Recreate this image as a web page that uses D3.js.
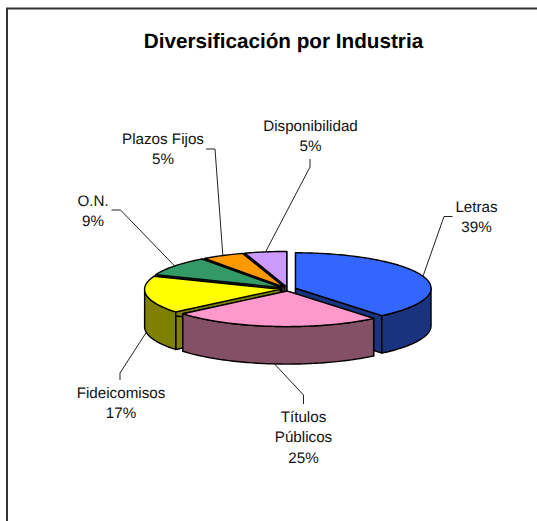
<!DOCTYPE html>
<html>
<head>
<meta charset="utf-8">
<script src="https://cdn.jsdelivr.net/npm/d3@7"></script>
<style>
  html, body {margin: 0; padding: 0; background: #fff; overflow: hidden;}
  text {font-family: 'Liberation Sans', Arial, sans-serif; fill: #111; text-rendering: geometricPrecision;}
</style>
</head>
<body>
<div id="chart"></div>
<script>
const titleText = 'Diversificación por Industria';
const categories = ['Letras', 'Títulos Públicos', 'Fideicomisos', 'O.N.', 'Plazos Fijos', 'Disponibilidad'];
const percents = [39, 25, 17, 9, 5, 5];
const topColors = ['#3366ff', '#ff99cc', '#ffff00', '#339966', '#ff9900', '#cc99ff'];
const wallColors = ['#1a337f', '#845066', '#808000', '#1a4d33', '#804d00', '#664d80'];
// back slices first so the front ones paint over them
const drawOrder = [5, 4, 3, 2, 0, 1];

const width = 537;
const height = 521;
const cx = 288;
const cy = 289;
const rx = 135.5;
const ry = 35.5;
const depth = 37.5;
const explode = 8;

const svg = d3.select('#chart')
    .append('svg')
    .attr('width', width)
    .attr('height', height);

// outer frame, cut off by the right and bottom of the picture
svg.append('path')
    .attr('d', `M7,${height}V8.5H${width}`)
    .attr('fill', 'none')
    .attr('stroke', '#333')
    .attr('stroke-width', 2);

svg.append('text')
    .attr('x', 283.5)
    .attr('y', 48)
    .attr('text-anchor', 'middle')
    .attr('font-size', 20.7)
    .attr('font-weight', 'bold')
    .style('fill', '#000')
    .text(titleText);

const arcs = d3.pie().sort(null)(percents);
const line = d3.line();

const mid = (d) => (d.startAngle + d.endAngle) / 2;
const sliceCenter = (d) => [
  cx + explode * Math.sin(mid(d)),
  cy - explode * Math.cos(mid(d)) * ry / rx,
];
const rim = (d, a) => {
  const c = sliceCenter(d);
  return [c[0] + rx * Math.sin(a), c[1] - ry * Math.cos(a)];
};
const sampled = (d, a0, a1) => {
  const n = Math.max(2, Math.ceil((a1 - a0) / 0.02));
  return d3.range(n + 1).map((i) => rim(d, a0 + (a1 - a0) * i / n));
};
const down = (p) => [p[0], p[1] + depth];

const pieG = svg.append('g')
    .attr('stroke', '#000')
    .attr('stroke-width', 1.4)
    .attr('stroke-linejoin', 'round');

drawOrder.forEach((i) => {
  const d = arcs[i];
  const c = sliceCenter(d);

  // the two cut faces
  [d.startAngle, d.endAngle].forEach((a) => {
    const p = rim(d, a);
    pieG.append('path')
        .attr('d', line([c, p, down(p), down(c)]) + 'Z')
        .attr('fill', wallColors[i]);
  });

  // outer wall, only the part turned towards the viewer
  const a0 = Math.max(d.startAngle, Math.PI / 2);
  const a1 = Math.min(d.endAngle, Math.PI * 1.5);
  if (a1 > a0) {
    const upper = sampled(d, a0, a1);
    const lower = upper.map(down).reverse();
    pieG.append('path')
        .attr('d', line(upper.concat(lower)) + 'Z')
        .attr('fill', wallColors[i]);
  }

  // top face
  pieG.append('path')
      .attr('d', line([c].concat(sampled(d, d.startAngle, d.endAngle))) + 'Z')
      .attr('fill', topColors[i]);
});

// label layout, one entry per category
const labelLayout = [
  {lines: ['Letras', '39%'], x: 476.5, y: 212, elbow: [[444, 216.5], [452.5, 216.5]]},
  {lines: ['Títulos', 'Públicos', '25%'], x: 303.5, y: 422, elbow: [[303.5, 395], [303.5, 404]], low: true},
  {lines: ['Fideicomisos', '17%'], x: 121, y: 398, elbow: [[120, 373], [120, 380]], low: true},
  {lines: ['O.N.', '9%'], x: 93, y: 206, elbow: [[120.5, 210], [111.5, 210]]},
  {lines: ['Plazos Fijos', '5%'], x: 163, y: 144, elbow: [[215, 149], [206, 149]]},
  {lines: ['Disponibilidad', '5%'], x: 310.5, y: 131, elbow: [[310, 167], [310, 159]]},
];

labelLayout.forEach((l, i) => {
  const edge = rim(arcs[i], mid(arcs[i]));
  const start = l.low ? down(edge) : edge;
  svg.append('path')
      .attr('d', line([start].concat(l.elbow)))
      .attr('fill', 'none')
      .attr('stroke', '#222')
      .attr('stroke-width', 1);

  const text = svg.append('text')
      .attr('text-anchor', 'middle')
      .attr('font-size', 15.2);
  l.lines.forEach((s, j) => {
    text.append('tspan')
        .attr('x', l.x)
        .attr('y', l.y + j * 20.4)
        .text(s);
  });
});
</script>
</body>
</html>
